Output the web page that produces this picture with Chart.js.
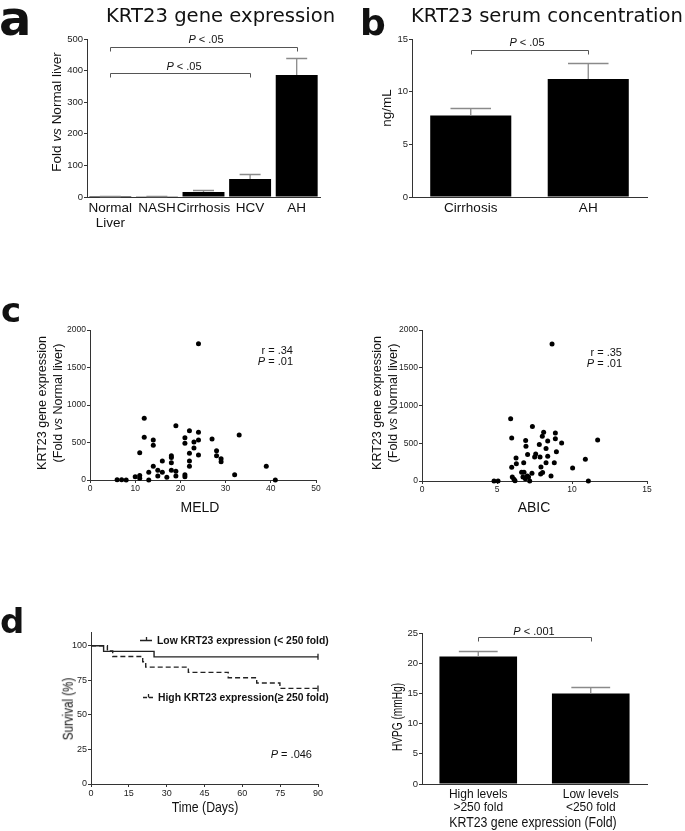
<!DOCTYPE html>
<html><head><meta charset="utf-8">
<script src="https://cdn.jsdelivr.net/npm/chart.js@4.4.0/dist/chart.umd.min.js"></script>
<style>
html,body{margin:0;padding:0;background:#fff;}
#page{position:relative;width:685px;height:831px;overflow:hidden;background:#fff;font-family:'Liberation Sans',Arial,sans-serif;color:#111;}
canvas{position:absolute;}
.t{position:absolute;white-space:nowrap;line-height:1;}
.rot{position:absolute;white-space:nowrap;text-align:center;}
</style></head><body><div id="page"></div>
<script>
// ---------- DATA ----------
const geneCategories = [['Normal','Liver'], 'NASH', 'Cirrhosis', 'HCV', 'AH'];
const geneMeans  = [3, 2, 16, 57, 386];
const geneErrors = [1, 1, 6, 15, 54];

const serumCategories = ['Cirrhosis', 'AH'];
const serumMeans  = [7.74, 11.2];
const serumErrors = [0.73, 1.48];

const meldX = [6,7,8,10,11,11,11,12,12,13,13,14,14,14,15,15,16,16,17,18,18,18,18,19,19,19,21,21,21,21,22,22,22,22,23,23,24,24,24,24,27,28,28,29,29,32,33,39,41];
const meldY = [5,5,0,44,60,25,364,822,569,102,0,533,462,182,129,53,253,102,36,324,300,231,129,724,116,53,564,489,71,44,658,356,253,182,507,427,1818,636,533,333,547,391,324,284,244,71,600,182,0];

const abicX = [4.8,5.07,5.91,5.98,5.98,6.29,6.27,6.02,6.13,6.2,6.78,6.64,6.8,6.91,6.93,7.04,6.73,6.89,7.02,7.1,7.18,7.36,7.33,7.58,7.51,7.82,7.87,7.93,7.91,8.04,8.02,8.11,8.27,8.27,8.38,8.38,8.67,8.6,8.82,8.89,8.89,8.96,9.31,10.04,10.89,11.09,11.71];
const abicY = [0,0,823,571,181,230,305,53,22,4,243,115,115,535,460,350,53,31,66,53,0,721,102,358,319,482,319,186,93,111,593,646,429,243,531,327,1814,66,243,637,558,389,504,173,288,0,544];

const survLowDays  = [0, 5, 25, 90];
const survLowPct   = [100, 96.0, 92.0, 92.0];
const survHighDays = [0, 6.5, 8.6, 20.5, 21.7, 38.6, 54.4, 65.7, 74.9, 90];
const survHighPct  = [100, 96.2, 92.3, 88.5, 84.6, 80.8, 76.9, 73.1, 69.2, 69.2];

const hvpgCategories = [['High levels','>250 fold'], ['Low levels','<250 fold']];
const hvpgMeans  = [21.1, 15.0];
const hvpgErrors = [0.97, 1.0];

const survTicksY = [0, 25, 50, 75, 100];

// ---------- HELPERS ----------
const FONT = "'Liberation Sans', Arial, Helvetica, sans-serif";
const DJ = "'DejaVu Sans', sans-serif";
const AX = '#333';
const page = document.getElementById('page');

function addText(html, x, baseline, size, opts) {
  opts = opts || {};
  const d = document.createElement('div');
  d.className = 't';
  d.innerHTML = html;
  d.style.fontSize = size + 'px';
  d.style.fontFamily = opts.family || FONT;
  if (opts.bold) d.style.fontWeight = 'bold';
  d.style.top = (baseline - 0.846 * size) + 'px';
  const sx = opts.sx || 1;
  const align = opts.align || 'left';
  if (align === 'left') { d.style.left = x + 'px'; d.style.transformOrigin = 'left center'; d.style.transform = 'scaleX(' + sx + ')'; }
  else if (align === 'center') { d.style.left = x + 'px'; d.style.transform = 'translateX(-50%) scaleX(' + sx + ')'; }
  else { d.style.right = (685 - x) + 'px'; d.style.transformOrigin = 'right center'; d.style.transform = 'scaleX(' + sx + ')'; }
  page.appendChild(d);
}
function addRot(html, cx, cy, size, lh, sx) {
  const d = document.createElement('div');
  d.className = 'rot';
  d.innerHTML = html;
  d.style.fontSize = size + 'px';
  d.style.lineHeight = (lh || size) + 'px';
  d.style.left = cx + 'px';
  d.style.top = cy + 'px';
  d.style.transform = 'translate(-50%,-50%) rotate(-90deg) scaleX(' + (sx || 1) + ')';
  page.appendChild(d);
}
function makeCanvas(left, top, w, h) {
  const c = document.createElement('canvas');
  c.width = w; c.height = h;
  c.style.left = left + 'px'; c.style.top = top + 'px';
  c.style.width = w + 'px'; c.style.height = h + 'px';
  page.appendChild(c);
  return c;
}
function plain(v) { return String(v); }
function yScale(min, max, step, yw, fs) {
  return {
    type: 'linear', min: min, max: max,
    ticks: { stepSize: step, font: { family: FONT, size: fs }, color: '#222', padding: 1, callback: plain },
    grid: { display: true, drawOnChartArea: false, drawTicks: true, tickLength: 3, color: AX, lineWidth: 1 },
    border: { display: true, color: AX, width: 1 },
    afterFit: function (s) { s.width = yw; }
  };
}
function catScale(xh, fs) {
  return {
    type: 'category', offset: true,
    ticks: { font: { family: FONT, size: fs, lineHeight: 1.1 }, color: '#111', padding: 4, maxRotation: 0, autoSkip: false },
    grid: { display: true, drawOnChartArea: false, drawTicks: false },
    border: { display: true, color: AX, width: 1 },
    afterFit: function (s) { s.height = xh; }
  };
}
function linXScale(min, max, step, xh, fs) {
  return {
    type: 'linear', min: min, max: max,
    ticks: { stepSize: step, font: { family: FONT, size: fs }, color: '#222', padding: 1, maxRotation: 0, callback: plain },
    grid: { display: true, drawOnChartArea: false, drawTicks: true, tickLength: 3, color: AX, lineWidth: 1 },
    border: { display: true, color: AX, width: 1 },
    afterFit: function (s) { s.height = xh; }
  };
}
function errorBars(errors) {
  return { id: 'err', afterDatasetsDraw: function (chart) {
    const ctx = chart.ctx, meta = chart.getDatasetMeta(0), ys = chart.scales.y;
    const vals = chart.data.datasets[0].data;
    ctx.save(); ctx.strokeStyle = '#8a8a8a'; ctx.lineWidth = 1.3;
    meta.data.forEach(function (bar, i) {
      const p = bar.getProps(['x', 'y', 'width'], true);
      const top = Math.round(ys.getPixelForValue(vals[i] + errors[i])) + 0.5;
      const hw = p.width / 4;
      ctx.beginPath();
      ctx.moveTo(p.x, p.y); ctx.lineTo(p.x, top);
      ctx.moveTo(p.x - hw, top); ctx.lineTo(p.x + hw, top);
      ctx.stroke();
    });
    ctx.restore();
  }};
}
function brackets(list) {
  return { id: 'br', afterDraw: function (chart) {
    const ctx = chart.ctx, xs = chart.scales.x, ys = chart.scales.y;
    ctx.save(); ctx.strokeStyle = '#555'; ctx.lineWidth = 1;
    list.forEach(function (b) {
      const x1 = Math.round(xs.getPixelForValue(b.from)) + 0.5, x2 = Math.round(xs.getPixelForValue(b.to)) + 0.5;
      const y = Math.round(ys.getPixelForValue(b.value)) + 0.5;
      ctx.beginPath(); ctx.moveTo(x1, y + 4); ctx.lineTo(x1, y); ctx.lineTo(x2, y); ctx.lineTo(x2, y + 4); ctx.stroke();
    });
    ctx.restore();
  }};
}
function baseOpts(pad) {
  return {
    responsive: false, animation: false, devicePixelRatio: 1,
    layout: { padding: pad },
    plugins: { legend: { display: false }, tooltip: { enabled: false }, title: { display: false } }
  };
}

// ---------- PANEL a ----------
(function () {
  const c = makeCanvas(0, 0, 340, 270);
  const o = baseOpts({ top: 39, right: 20, left: 0, bottom: 0 });
  o.scales = { x: catScale(73, 13.5), y: yScale(0, 500, 100, 87, 9.5) };
  new Chart(c, {
    type: 'bar',
    data: { labels: geneCategories, datasets: [{ data: geneMeans, backgroundColor: '#000', borderWidth: 0, barPercentage: 0.9, categoryPercentage: 1 }] },
    options: o,
    plugins: [errorBars(geneErrors), brackets([{ from: 0, to: 4, value: 475 }, { from: 0, to: 3, value: 392 }])]
  });
})();

// ---------- PANEL b ----------
(function () {
  const c = makeCanvas(352, 0, 325, 270);
  const o = baseOpts({ top: 39, right: 30, left: 0, bottom: 0 });
  o.scales = { x: catScale(73, 13.5), y: yScale(0, 15, 5, 60, 9.5) };
  new Chart(c, {
    type: 'bar',
    data: { labels: serumCategories, datasets: [{ data: serumMeans, backgroundColor: '#000', borderWidth: 0, barPercentage: 0.69, categoryPercentage: 1 }] },
    options: o,
    plugins: [errorBars(serumErrors), brackets([{ from: 0, to: 1, value: 13.95 }])]
  });
})();

// ---------- PANEL c (MELD) ----------
(function () {
  const c = makeCanvas(50, 320, 286, 200);
  const o = baseOpts({ top: 10, right: 20, left: 0, bottom: 0 });
  o.scales = { x: linXScale(0, 50, 10, 40, 8.5), y: yScale(0, 2000, 500, 40, 8.5) };
  new Chart(c, {
    type: 'scatter',
    data: { datasets: [{ data: meldX.map(function (x, i) { return { x: x, y: meldY[i] }; }), backgroundColor: '#000', borderColor: '#000', pointRadius: 2.5, borderWidth: 0, clip: false }] },
    options: o
  });
})();

// ---------- PANEL c (ABIC) ----------
(function () {
  const c = makeCanvas(382, 320, 285, 201);
  const o = baseOpts({ top: 10, right: 20, left: 0, bottom: 0 });
  o.scales = { x: linXScale(0, 15, 5, 40, 8.5), y: yScale(0, 2000, 500, 40, 8.5) };
  new Chart(c, {
    type: 'scatter',
    data: { datasets: [{ data: abicX.map(function (x, i) { return { x: x, y: abicY[i] }; }), backgroundColor: '#000', borderColor: '#000', pointRadius: 2.5, borderWidth: 0, clip: false }] },
    options: o
  });
})();

// ---------- PANEL d (survival) ----------
(function () {
  const OX = 41, OY = 622;
  const c = makeCanvas(OX, OY, 302, 202);
  const o = baseOpts({ top: 10, right: 25, left: 0, bottom: 0 });
  const ys = yScale(0, 110, 25, 50, 9);
  ys.afterBuildTicks = function (s) { s.ticks = survTicksY.map(function (v) { return { value: v }; }); };
  o.scales = { x: linXScale(0, 90, 15, 40, 9), y: ys };
  function pr(n) { const a = []; for (let i = 0; i < n; i++) a.push(i === n - 1 ? 3 : 0); return a; }
  const legend = { id: 'leg', afterDraw: function (chart) {
    const ctx = chart.ctx;
    ctx.save(); ctx.strokeStyle = '#222'; ctx.lineWidth = 1.3;
    ctx.beginPath();
    ctx.moveTo(140 - OX, 640.5 - OY); ctx.lineTo(152 - OX, 640.5 - OY);
    ctx.moveTo(146.5 - OX, 637 - OY); ctx.lineTo(146.5 - OX, 640.5 - OY);
    ctx.stroke();
    ctx.setLineDash([4, 2]);
    ctx.beginPath(); ctx.moveTo(143 - OX, 697.5 - OY); ctx.lineTo(155 - OX, 697.5 - OY); ctx.stroke();
    ctx.setLineDash([]);
    ctx.beginPath(); ctx.moveTo(148.5 - OX, 694 - OY); ctx.lineTo(148.5 - OX, 697.5 - OY); ctx.stroke();
    ctx.restore();
  }};
  new Chart(c, {
    type: 'line',
    data: { datasets: [
      { data: survLowDays.map(function (x, i) { return { x: x, y: survLowPct[i] }; }), stepped: true, borderColor: '#222', borderWidth: 1.4, fill: false,
        pointRadius: pr(survLowDays.length), pointStyle: 'line', rotation: 90, pointBorderColor: '#222', pointBorderWidth: 1.3, clip: false },
      { data: survHighDays.map(function (x, i) { return { x: x, y: survHighPct[i] }; }), stepped: true, borderColor: '#222', borderWidth: 1.4, borderDash: [5, 3], fill: false,
        pointRadius: pr(survHighDays.length), pointStyle: 'line', rotation: 90, pointBorderColor: '#222', pointBorderWidth: 1.3, clip: false }
    ]},
    options: o,
    plugins: [legend]
  });
})();

// ---------- PANEL d (HVPG) ----------
(function () {
  const c = makeCanvas(362, 623, 315, 206);
  const o = baseOpts({ top: 10, right: 30, left: 0, bottom: 0 });
  o.scales = { x: catScale(45, 12), y: yScale(0, 25, 5, 60, 9.5) };
  new Chart(c, {
    type: 'bar',
    data: { labels: hvpgCategories, datasets: [{ data: hvpgMeans, backgroundColor: '#000', borderWidth: 0, barPercentage: 0.69, categoryPercentage: 1 }] },
    options: o,
    plugins: [errorBars(hvpgErrors), brackets([{ from: 0, to: 1, value: 24.3 }])]
  });
})();

// ---------- TEXT ----------
addText('a', -1, 35, 48, { family: DJ, bold: true });
addText('b', 360, 35, 36, { family: DJ, bold: true });
addText('c', 1, 322, 34, { family: DJ, bold: true });
addText('d', 0, 633, 34, { family: DJ, bold: true });

addText('KRT23 gene expression', 106, 23, 19.6, { family: DJ });
addText('KRT23 serum concentration', 411, 23, 19.6, { family: DJ });

addText('<i>P</i> &lt; .05', 206, 43.5, 11, { align: 'center' });
addText('<i>P</i> &lt; .05', 184, 70.5, 11, { align: 'center' });
addText('<i>P</i> &lt; .05', 527, 46.5, 11, { align: 'center' });
addText('<i>P</i> &lt; .001', 534, 635, 11, { align: 'center' });

addRot('Fold <i>vs</i> Normal liver', 57, 112, 13.5);
addRot('ng/mL', 387, 108, 13.5);
addRot('KRT23 gene expression<br>(Fold <i>vs</i> Normal liver)', 50, 403, 12.5, 16);
addRot('KRT23 gene expression<br>(Fold <i>vs</i> Normal liver)', 385, 403, 12.5, 16);
addRot('Survival (%)', 68, 709, 14.5, 14.5, 0.8);
addRot('HVPG (mmHg)', 397, 717, 14.5, 14.5, 0.7);

addText('r = .34', 293, 354, 11, { align: 'right' });
addText('<i>P</i> = .01', 293, 365.5, 11, { align: 'right' });
addText('r = .35', 622, 356, 11, { align: 'right' });
addText('<i>P</i> = .01', 622, 367, 11, { align: 'right' });
addText('<i>P</i> = .046', 312, 758, 11, { align: 'right' });

addText('MELD', 200, 512, 14, { align: 'center' });
addText('ABIC', 534, 512, 14, { align: 'center' });
addText('Time (Days)', 205, 812, 15, { align: 'center', sx: 0.82 });
addText('KRT23 gene expression (Fold)', 533, 827, 15, { align: 'center', sx: 0.82 });

addText('Low KRT23 expression (&lt; 250 fold)', 157, 644.5, 11.5, { bold: true, sx: 0.9 });
addText('High KRT23 expression(≥ 250 fold)', 158, 701.5, 11.5, { bold: true, sx: 0.9 });
</script>
</body></html>
